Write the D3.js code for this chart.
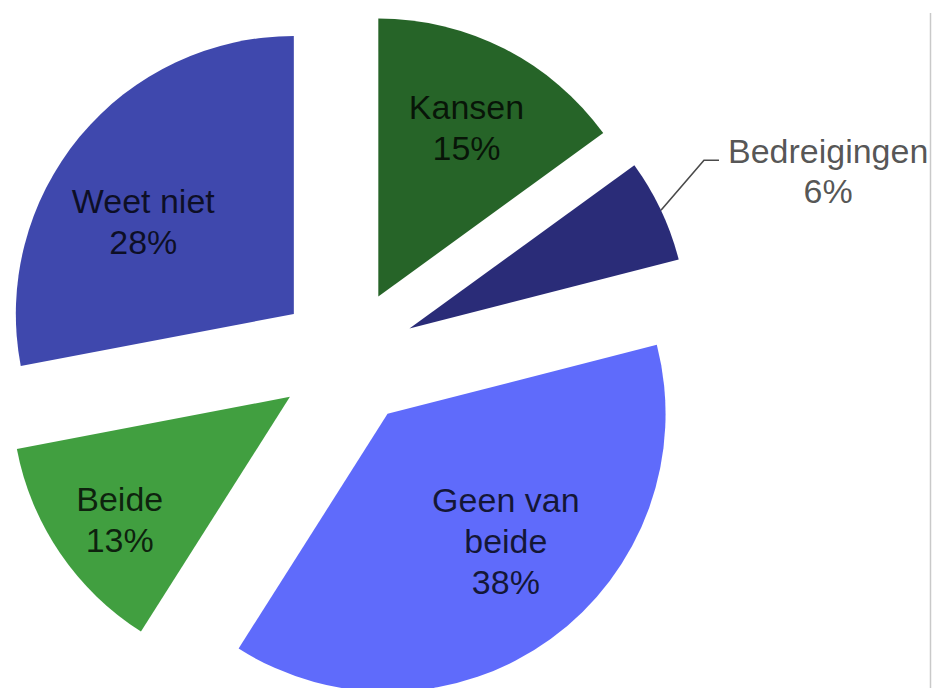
<!DOCTYPE html>
<html>
<head>
<meta charset="utf-8">
<script src="https://cdn.jsdelivr.net/npm/d3@7"></script>
<style>
  html, body { margin: 0; padding: 0; background: #fff; }
  svg { display: block; }
</style>
</head>
<body>
<svg id="chart" width="932" height="688"></svg>
<script>
// Survey answers: does the development bring opportunities or threats?
const categories = ["Kansen", "Bedreigingen", "Geen van beide", "Beide", "Weet niet"];
const shares = [15, 6, 38, 13, 28];
const labelLines = [["Kansen"], ["Bedreigingen"], ["Geen van", "beide"], ["Beide"], ["Weet niet"]];
const sliceColors = ["#266428", "#2a2c78", "#5f6bfb", "#419f40", "#3f48ad"];

const width = 932, height = 688;
const cx = 347, cy = 358;          // centre of the un-exploded pie
const radius = 278;
const explode = 69;                // every slice is pulled out by this much
const fontFamily = "'Liberation Sans', Arial, Helvetica, sans-serif";
const fontSize = 34, lineHeight = 41, capHeight = 0.716 * fontSize;

// small hand adjustments so the text sits comfortably inside each wedge
const labelNudge = {
  "Kansen": [3, -2],
  "Geen van beide": [8, -25],
  "Beide": [-15, 17],
  "Weet niet": [-6, 27]
};

const svg = d3.select("#chart");

// thin frame line on the right side
svg.append("line")
  .attr("x1", 930.5).attr("x2", 930.5)
  .attr("y1", 13).attr("y2", height)
  .attr("stroke", "#c9c9c9").attr("stroke-width", 1.5);

const data = categories.map((c, i) => ({ name: c, value: shares[i], lines: labelLines[i], color: sliceColors[i] }));

const pie = d3.pie().sort(null).value(d => d.value).startAngle(0).endAngle(2 * Math.PI);
const arc = d3.arc().innerRadius(0).outerRadius(radius);
const arcs = pie(data);

// unit vector for an angle measured clockwise from 12 o'clock
const dir = a => [Math.sin(a), -Math.cos(a)];

const root = svg.append("g").attr("transform", `translate(${cx},${cy})`);

const slices = root.selectAll("g.slice")
  .data(arcs)
  .join("g")
  .attr("class", "slice")
  .attr("transform", d => {
    const m = (d.startAngle + d.endAngle) / 2;
    const [ux, uy] = dir(m);
    return `translate(${ux * explode},${uy * explode})`;
  });

slices.append("path")
  .attr("d", arc)
  .attr("fill", d => d.data.color);

const textFill = "rgba(0,0,0,0.78)";

slices.each(function(d) {
  const g = d3.select(this);
  const m = (d.startAngle + d.endAngle) / 2;
  const [ux, uy] = dir(m);
  const lines = d.data.lines.concat([d.data.value + "%"]);

  if (d.data.value >= 10) {
    // label inside the slice
    const lr = radius * 0.675;
    const [nx, ny] = labelNudge[d.data.name] || [0, 0];
    const x = ux * lr + nx, y = uy * lr + ny;
    const n = lines.length;
    const t = g.append("text")
      .attr("text-anchor", "middle")
      .attr("font-family", fontFamily)
      .attr("font-size", fontSize)
      .attr("fill", textFill);
    lines.forEach((s, i) => {
      t.append("tspan")
        .attr("x", x)
        .attr("y", y - (n - 1) * lineHeight / 2 + i * lineHeight + capHeight / 2)
        .text(s);
    });
  } else {
    // small slice: label outside with a leader line
    const sx = ux * radius, sy = uy * radius;
    const ex = sx + 43, ey = sy - 50;
    const hx = ex + 15;
    g.append("path")
      .attr("d", `M${sx},${sy}L${ex},${ey}L${hx},${ey}`)
      .attr("fill", "none")
      .attr("stroke", "#4a4a4a")
      .attr("stroke-width", 1.6);
    const t = g.append("text")
      .attr("text-anchor", "middle")
      .attr("font-family", fontFamily)
      .attr("font-size", fontSize)
      .attr("fill", "rgba(0,0,0,0.68)");
    const first = t.append("tspan").attr("y", ey + 3).text(lines[0]);
    const w = first.node().getComputedTextLength();
    const mx = hx + 9 + w / 2;
    first.attr("x", mx);
    lines.slice(1).forEach((s, i) => {
      t.append("tspan").attr("x", mx).attr("y", ey + 3 + (i + 1) * 40).text(s);
    });
  }
});
</script>
</body>
</html>
